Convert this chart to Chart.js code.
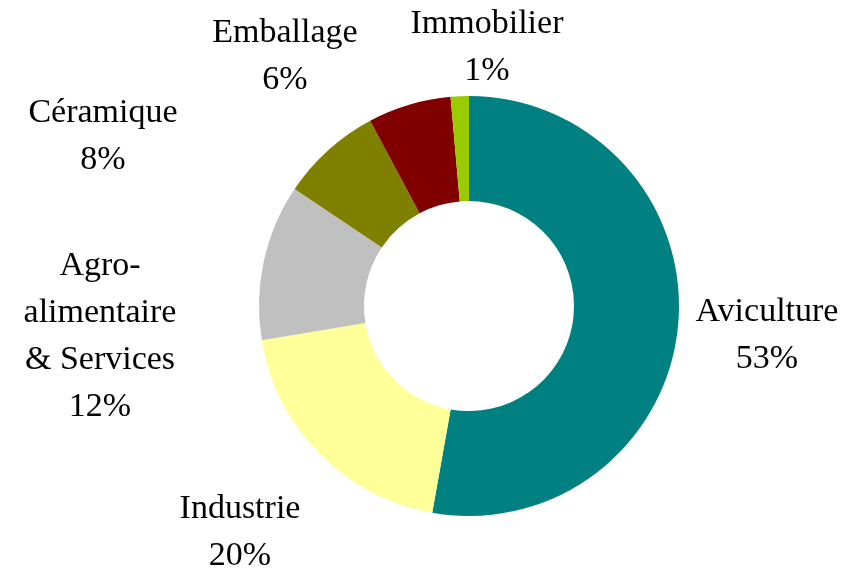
<!DOCTYPE html>
<html>
<head>
<meta charset="utf-8">
<script src="https://cdn.jsdelivr.net/npm/chart.js@4"></script>
<style>
    body { margin: 0; background: #fff; }
    #chart { display: block; }
</style>
</head>
<body>
<canvas id="chart" width="856" height="571"></canvas>
<script>
const sectors = ['Aviculture', 'Industrie', 'Agro-alimentaire & Services', 'Céramique', 'Emballage', 'Immobilier'];
const shares = [52.8, 19.6, 12.0, 7.8, 6.4, 1.4];
const labelLines = [
    ['Aviculture'],
    ['Industrie'],
    ['Agro-', 'alimentaire', '& Services'],
    ['Céramique'],
    ['Emballage'],
    ['Immobilier']
];
const colors = ['#008080', '#ffff99', '#c0c0c0', '#808000', '#800000', '#99cc00'];

// label centres, relative to the doughnut centre (placed by hand like the original)
const labelOffsets = [
    [298, 30], [-229, 227], [-369, 31], [-366, -169], [-184, -249], [18, -258]
];

const outsideLabels = {
    id: 'outsideLabels',
    afterDraw(chart) {
        const ctx = chart.ctx;
        const arc = chart.getDatasetMeta(0).data[0];
        const lineHeight = 47;
        ctx.save();
        ctx.font = '34px "Liberation Serif", "Times New Roman", serif';
        ctx.fillStyle = '#000';
        ctx.textAlign = 'center';
        ctx.textBaseline = 'middle';
        labelLines.forEach((lines, i) => {
            const all = lines.concat([Math.round(shares[i]) + '%']);
            const cx = arc.x + labelOffsets[i][0];
            const cy = arc.y + labelOffsets[i][1];
            const top = cy - (all.length - 1) * lineHeight / 2;
            all.forEach((txt, j) => ctx.fillText(txt, cx, top + j * lineHeight));
        });
        ctx.restore();
    }
};

new Chart(document.getElementById('chart'), {
    type: 'doughnut',
    data: {
        labels: sectors,
        datasets: [{
            data: shares,
            backgroundColor: colors,
            borderWidth: 0
        }]
    },
    options: {
        responsive: false,
        animation: false,
        cutout: '50%',
        layout: {
            padding: { left: 259, right: 177, top: 96, bottom: 55 }
        },
        plugins: {
            legend: { display: false },
            tooltip: { enabled: false }
        }
    },
    plugins: [outsideLabels]
});
</script>
</body>
</html>
